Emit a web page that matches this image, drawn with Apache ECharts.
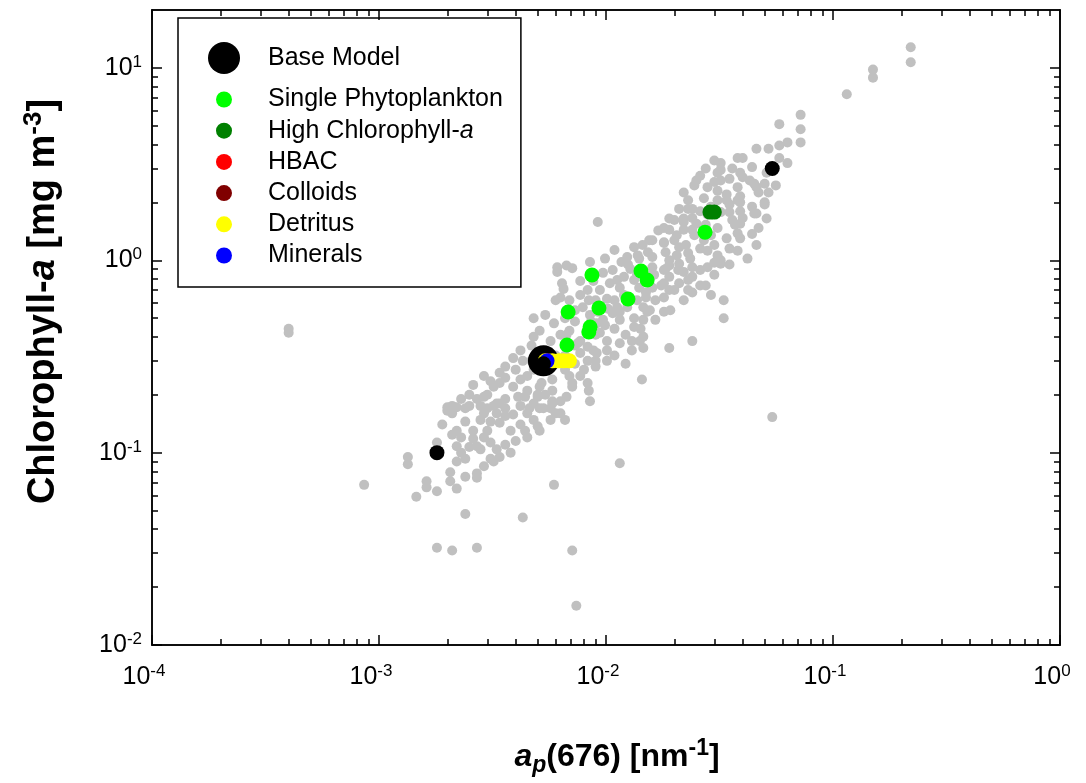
<!DOCTYPE html>
<html><head><meta charset="utf-8">
<script src="https://cdn.jsdelivr.net/npm/echarts@6/dist/echarts.min.js"></script>
<style>html,body{margin:0;padding:0;background:#fff}#c{width:1086px;height:783px}</style>
</head><body><div id="c"></div>
<script>
// ---------------- data ----------------
const grayPoints = [
[0.0004,0.44],[0.0004,0.42],[0.00086,0.068],[0.00134,0.095],[0.00134,0.087],[0.00146,0.059],[0.00162,0.071],[0.00162,0.066],[0.0018,0.063],[0.0018,0.113],[0.00206,0.079],[0.00206,0.071],[0.0022,0.065],[0.0024,0.048],[0.0024,0.075],[0.0027,0.078],[0.0027,0.074],[0.0018,0.032],[0.0021,0.031],[0.0027,0.032],[0.0043,0.046],[0.0059,0.068],[0.0071,0.031],[0.0074,0.016],[0.0115,0.088],[0.054,0.153],[0.0092,1.58],[0.0144,0.24],[0.019,0.35],[0.024,0.38],[0.033,0.62],[0.033,0.5],
[0.22,12.8],[0.22,10.7],[0.15,9.8],[0.15,8.9],[0.115,7.3],[0.072,5.7],[0.058,5.1],[0.072,4.8],[0.072,4.1],[0.063,4.1],[0.058,3.95],[0.052,3.8],[0.058,3.4],[0.063,3.2],[0.046,3.8],[0.038,3.4],[0.032,3.2],[0.032,2.95],[0.036,3.0],[0.04,3.4],[0.044,3.05],[0.04,2.7],[0.045,2.5],[0.05,2.5],[0.051,2.85],[0.03,2.55],[0.032,2.6],[0.038,2.4],[0.046,2.4],[0.05,2.0],[0.045,1.75],[0.039,1.8],[0.038,2.05],[0.034,2.2],[0.027,2.1],[0.031,2.3],[0.034,2.05],[0.039,2.0],[0.044,1.9],[0.05,1.95],[0.023,2.05],[0.023,1.85],[0.021,1.85],[0.019,1.65],[0.02,1.62],[0.018,1.47],[0.019,1.44],[0.022,1.65],[0.024,1.66],[0.032,1.78],[0.036,1.62],[0.04,1.66],[0.046,1.75],[0.038,1.38],[0.034,1.3],[0.046,1.2],[0.03,1.2],[0.028,1.12],[0.032,1.0],[0.035,0.95],[0.032,0.96],[0.028,0.92],[0.024,0.92],[0.023,1.09],[0.021,1.17],[0.02,1.27],[0.018,1.23],[0.016,1.27],[0.0145,1.2],[0.0133,1.17],[0.0124,1.04],[0.014,1.02],[0.016,1.04],[0.019,1.0],[0.021,0.96],[0.022,0.87],[0.024,0.82],[0.026,0.74],[0.023,0.7],[0.021,0.76],[0.019,0.82],[0.018,0.89],[0.016,0.92],[0.018,0.76],[0.016,0.72],[0.018,0.64],[0.015,0.68],[0.014,0.72],[0.0133,0.79],[0.012,0.82],[0.0107,0.89],[0.0097,0.86],[0.0104,0.76],[0.0115,0.72],[0.0124,0.57],[0.0112,0.57],[0.0101,0.63],[0.0107,0.53],[0.0115,0.49],[0.0133,0.5],[0.0146,0.49],[0.0156,0.55],[0.018,0.54],[0.0146,0.57],[0.0133,0.45],[0.013,0.38],[0.0146,0.4],[0.0097,0.49],[0.0091,0.47],[0.0094,0.42],[0.0101,0.38],[0.0101,0.34],[0.0091,0.33],[0.0083,0.355],[0.0077,0.38],[0.0077,0.33],[0.0083,0.3],[0.008,0.27],[0.0084,0.21],[0.0101,0.3],[0.013,0.34],[0.0146,0.35],[0.0122,0.29],[0.0061,0.92],[0.0061,0.87],[0.0064,0.76],[0.0065,0.71],[0.0077,0.78],[0.0083,0.7],[0.0077,0.66],[0.0084,0.62],[0.0063,0.64],[0.0059,0.47],[0.0048,0.5],[0.0048,0.4],[0.0057,0.38],[0.0043,0.3],[0.0036,0.28],[0.0036,0.245],[0.0034,0.23],[0.0032,0.22],[0.0042,0.24],[0.0045,0.25],[0.0048,0.27],[0.0055,0.27],[0.0058,0.24],[0.0058,0.21],[0.0051,0.22],[0.005,0.195],[0.0045,0.21],[0.0041,0.195],[0.0042,0.175],[0.0046,0.17],[0.0051,0.17],[0.0058,0.18],[0.0063,0.16],[0.0063,0.185],[0.0067,0.195],[0.0071,0.22],[0.0077,0.25],[0.0083,0.23],[0.0029,0.195],[0.0028,0.175],[0.0025,0.175],[0.0021,0.175],[0.0021,0.16],[0.0024,0.17],[0.0032,0.175],[0.0034,0.18],[0.0029,0.16],[0.0036,0.17],[0.0067,0.41],[0.0075,0.37],[0.0088,0.34],[0.0115,0.37],[0.0071,0.23],[0.0052,0.23],[0.005,0.2],[0.0039,0.22],[0.0044,0.195],[0.0048,0.18],[0.0045,0.16],[0.0036,0.19],[0.0033,0.18],[0.003,0.2],[0.0027,0.19],[0.003,0.17],[0.0033,0.16],[0.0036,0.155],[0.0034,0.143],[0.0038,0.13],[0.0031,0.145],[0.0028,0.148],[0.0026,0.13],[0.0029,0.12],[0.0031,0.113],[0.0033,0.104],[0.0036,0.11],[0.0034,0.095],[0.0031,0.093],[0.0028,0.104],[0.0026,0.118],[0.0027,0.108],[0.003,0.13],[0.0022,0.172],[0.002,0.172],[0.0022,0.13],[0.0023,0.12],[0.0022,0.108],[0.0023,0.1],[0.0022,0.09],[0.0045,0.12],[0.005,0.137],[0.0048,0.148],[0.0051,0.13],[0.0057,0.148],[0.0053,0.17],[0.006,0.16],[0.0066,0.148],[0.0058,0.185],[0.0044,0.13],
[0.0109,1.13],[0.0117,0.98],[0.0128,0.9],[0.0137,0.84],[0.0148,0.79],[0.0163,0.84],[0.0183,0.9],[0.0205,1.06],[0.0225,1.2],[0.0245,1.35],[0.0275,1.53],[0.029,1.35],[0.026,1.15],[0.0235,1.02],[0.0208,0.89],[0.019,0.7],[0.0165,0.62],[0.015,0.64],[0.0137,0.62],[0.012,0.66],[0.0109,0.62],[0.0102,0.56],[0.0092,0.54],[0.0085,0.52],[0.0094,0.7],[0.0088,0.78],[0.0069,0.62],[0.0073,0.55],[0.0066,0.5],[0.0069,0.43],[0.0063,0.41],[0.0054,0.34],[0.0051,0.31],[0.006,0.32],[0.0066,0.32],[0.0073,0.36],[0.009,0.41],[0.0109,0.44],[0.0122,0.41],[0.0142,0.44],[0.0165,0.49],[0.0192,0.55],[0.022,0.62],[0.024,0.68],[0.0275,0.74],[0.03,0.84],[0.031,1.06],[0.035,1.15],[0.039,1.3],[0.037,1.53],[0.035,1.78],[0.026,1.8],[0.029,1.9],[0.025,1.55],[0.022,1.44],[0.0205,1.35],[0.0183,1.1],[0.0153,1.1],[0.0099,1.02],[0.0085,0.98],[0.0071,0.91],[0.0067,0.94],[0.006,0.62],[0.0054,0.52],[0.0051,0.43],[0.0047,0.36],[0.0042,0.34],[0.0039,0.31],[0.006,0.29],[0.0066,0.27],[0.0073,0.29],[0.009,0.28],[0.026,2.75],[0.0275,3.0],[0.03,3.3],[0.0245,2.45],[0.022,2.25],
[0.025,2.6],[0.028,2.4],[0.031,2.85],[0.035,2.65],[0.039,2.85],[0.043,2.6],[0.047,2.25],[0.052,2.25],[0.056,2.45],[0.039,2.15],[0.035,1.95],[0.031,2.05],[0.028,1.73],[0.024,1.85],[0.022,1.58],[0.024,1.44],[0.027,1.27],[0.031,1.47],[0.039,1.55],[0.047,1.47],[0.051,1.65],[0.044,1.37],[0.038,1.12],[0.042,1.02],[0.03,0.97],[0.026,0.89],[0.023,0.79],[0.029,0.66],[0.02,0.7],[0.018,1.24],[0.017,1.43],[0.0155,1.27],[0.0138,1.06],[0.0125,0.95],[0.0112,0.79],[0.016,0.84],[0.0175,0.74],[0.019,0.94],[0.009,0.62],[0.0079,0.57],[0.0073,0.48],[0.0086,0.48],[0.0099,0.46],[0.0115,0.54],[0.0152,0.54],[0.0141,0.38],[0.0109,0.32],[0.009,0.3],[0.0069,0.25],[0.0085,0.185],
[0.0025,0.2],[0.0023,0.19],[0.002,0.165],[0.0019,0.14],[0.0021,0.124],[0.0024,0.145],[0.0025,0.107],[0.0024,0.093],[0.0029,0.085],[0.0032,0.09],[0.0038,0.1],[0.004,0.115],[0.0042,0.14],[0.0039,0.158],[0.0031,0.235],[0.0034,0.26],[0.004,0.27],[0.0029,0.25],[0.0026,0.225],[0.0047,0.3],[0.0054,0.2],[0.0057,0.17]
];
const baseModel = [[0.0053, 0.30]];
const baseModelRange = [[0.0018, 0.10], [0.054, 3.0], [0.0053, 0.29]];
const singlePhyto = [[0.0273,1.40],[0.00867,0.839],[0.01426,0.880],[0.01518,0.790],[0.0125,0.629],[0.00931,0.565],[0.00681,0.538],[0.00851,0.450],[0.0084,0.424],[0.00673,0.363]];
const highChl = [[0.0287,1.78],[0.0300,1.78]];
const hbac = [[0.0055,0.30]];
const colloids = [[0.0055,0.30]];
const detritus = [[0.0054,0.30],[0.0058,0.30],[0.0062,0.30],[0.0065,0.30],[0.0069,0.30]];
const minerals = [[0.0055,0.30]];

const seriesNames = ['Base Model','Single Phytoplankton','High Chlorophyll-a','HBAC','Colloids','Detritus','Minerals'];
const xMajorTicks = [0.0001, 0.001, 0.01, 0.1, 1];
const xTickExponents = ['-4','-3','-2','-1','0'];
const yMajorTicks = [0.01, 0.1, 1, 10];
const yTickExponents = ['-2','-1','0','1'];

// ---------------- helpers ----------------
function minorTicks(lo, hi) {
  const out = [];
  for (let d = lo; d < hi; d *= 10) {
    for (let m = 2; m <= 9; m++) { const v = +(m * d).toPrecision(3); if (v < hi) out.push(v); }
  }
  return out;
}
const xMinor = minorTicks(0.0001, 1);
const yMinor = minorTicks(0.01, 20);
const FONT = '"Liberation Sans", Arial, Helvetica, sans-serif';

function fmt(ticks, exps) {
  return function (v) {
    let idx = 0, best = Infinity;
    ticks.forEach(function (t, i) { const d = Math.abs(Math.log10(v) - Math.log10(t)); if (d < best) { best = d; idx = i; } });
    return '{b|10}{s|' + exps[idx] + '}';
  };
}
const tickRich = {
  b: { fontSize: 25, fontFamily: FONT, color: '#000', lineHeight: 28 },
  s: { fontSize: 17, fontFamily: FONT, color: '#000', verticalAlign: 'top', lineHeight: 16 }
};
const lineStyle = { color: '#000', width: 1.5 };

function mkAxis(kind, pos, major, opts) {
  const isX = kind === 'x';
  const a = {
    type: 'log', logBase: 10,
    min: isX ? 0.0001 : 0.01, max: isX ? 1 : 20,
    position: pos,
    splitLine: { show: false }, minorTick: { show: false }, minorSplitLine: { show: false },
    axisLine: { show: true, onZero: false, lineStyle: lineStyle },
    axisTick: {
      show: true, inside: true, length: major ? 10 : 6, lineStyle: lineStyle,
      customValues: major ? (isX ? xMajorTicks : yMajorTicks) : (isX ? xMinor : yMinor)
    },
    axisLabel: { show: false },
    axisPointer: { show: false },
    silent: true
  };
  return Object.assign(a, opts || {});
}

const xAxes = [
  mkAxis('x', 'bottom', true, {
    axisLabel: {
      show: true, customValues: xMajorTicks, formatter: fmt(xMajorTicks, xTickExponents),
      margin: 18, rich: tickRich, padding: [0, 16, 0, 0]
    },
    name: '{ai|a}{sub|p}{b|(676) [nm}{sup|-1}{b|]}',
    nameLocation: 'middle', nameGap: 92,
    nameTextStyle: {
      padding: [0, 0, 0, 22],
      rich: {
        b: { fontSize: 32, fontWeight: 'bold', fontFamily: FONT, color: '#000', lineHeight: 40 },
        ai: { fontSize: 32, fontWeight: 'bold', fontStyle: 'italic', fontFamily: FONT, color: '#000', lineHeight: 40 },
        sub: { fontSize: 23, fontWeight: 'bold', fontStyle: 'italic', fontFamily: FONT, color: '#000', verticalAlign: 'bottom', lineHeight: 20 },
        sup: { fontSize: 23, fontWeight: 'bold', fontFamily: FONT, color: '#000', verticalAlign: 'top', lineHeight: 20 }
      }
    }
  }),
  mkAxis('x', 'bottom', false),
  mkAxis('x', 'top', true),
  mkAxis('x', 'top', false)
];
const yAxes = [
  mkAxis('y', 'left', true, {
    axisLabel: {
      show: true, customValues: yMajorTicks, formatter: fmt(yMajorTicks, yTickExponents),
      margin: 10, rich: tickRich
    },
    name: '{b|Chlorophyll-}{bi|a}{b| [mg m}{sup|-3}{b|]}',
    nameLocation: 'middle', nameGap: 85,
    nameTextStyle: {
      padding: [0, 0, 0, 52],
      rich: {
        b: { fontSize: 38, fontWeight: 'bold', fontFamily: FONT, color: '#000', lineHeight: 46 },
        bi: { fontSize: 38, fontWeight: 'bold', fontStyle: 'italic', fontFamily: FONT, color: '#000', lineHeight: 46 },
        sup: { fontSize: 26, fontWeight: 'bold', fontFamily: FONT, color: '#000', verticalAlign: 'top', lineHeight: 22 }
      }
    }
  }),
  mkAxis('y', 'left', false),
  mkAxis('y', 'right', true),
  mkAxis('y', 'right', false)
];

function sc(name, data, color, size, z) {
  return { type: 'scatter', name: name, data: data, symbol: 'circle', symbolSize: size,
    itemStyle: { color: color, opacity: 1 }, z: z, xAxisIndex: 0, yAxisIndex: 0, silent: true };
}

const chart = echarts.init(document.getElementById('c'), null, { renderer: 'canvas' });
chart.setOption({
  animation: false,
  backgroundColor: '#fff',
  grid: { left: 152, right: 26, top: 10, bottom: 138, containLabel: false },
  xAxis: xAxes,
  yAxis: yAxes,
  legend: [
    {
      data: [seriesNames[0]], left: 208, top: 42, itemWidth: 32, itemHeight: 32,
      icon: 'circle', selectedMode: false, padding: 0,
      textStyle: { fontSize: 25, fontFamily: FONT, color: '#000', padding: [0, 0, 0, 23] }
    },
    {
      data: seriesNames.slice(1), orient: 'vertical', left: 178, top: 18,
      padding: [69, 18, 19, 38], borderColor: '#000', borderWidth: 1.5, backgroundColor: 'transparent',
      itemWidth: 16, itemHeight: 16, itemGap: 6.2, icon: 'circle', selectedMode: false,
      formatter: function (n) { return n === 'High Chlorophyll-a' ? '{t|High Chlorophyll-}{i|a}' : '{t|' + n + '}'; },
      textStyle: {
        fontSize: 25, fontFamily: FONT, color: '#000', lineHeight: 24, padding: [0, 0, 0, 31],
        rich: {
          t: { fontSize: 25, fontFamily: FONT, color: '#000', lineHeight: 24 },
          i: { fontSize: 25, fontFamily: FONT, fontStyle: 'italic', color: '#000', lineHeight: 24 }
        }
      }
    }
  ],
  series: [
    sc('gray', grayPoints, '#c0c0c0', 10, 2),
    sc('Base Model', baseModel, '#000000', 31, 3),
    sc('HBAC', hbac, '#ff0000', 15, 4),
    sc('Colloids', colloids, '#800000', 15, 5),
    sc('Detritus', detritus, '#ffff00', 15, 6),
    sc('Minerals', minerals, '#0000ff', 15, 7),
    sc('Single Phytoplankton', singlePhyto, '#00ff00', 15, 8),
    sc('High Chlorophyll-a', highChl, '#008000', 15, 9),
    sc('Base Model range', baseModelRange, '#000000', 15, 10)
  ]
});
</script>
</body></html>
